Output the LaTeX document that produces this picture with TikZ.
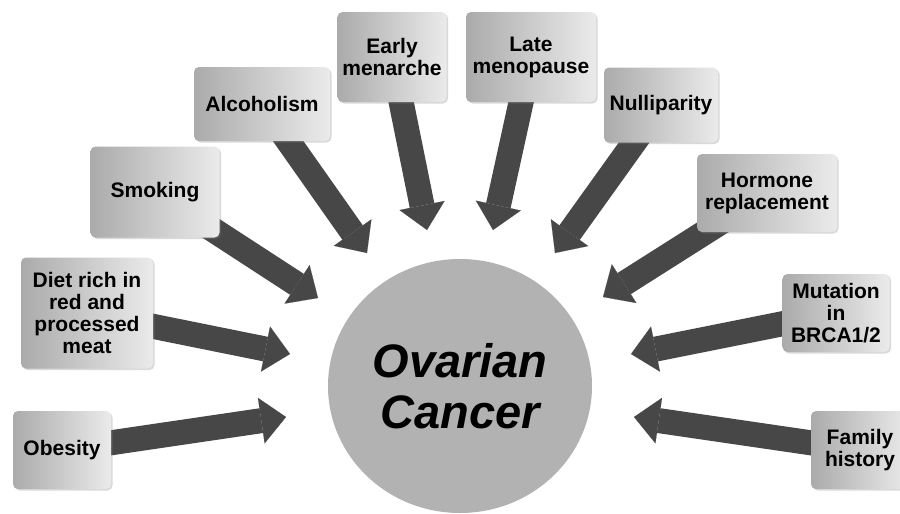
\documentclass[tikz,border=0pt]{standalone}
\usepackage{fontspec}
\setmainfont{Liberation Sans}
\usetikzlibrary{arrows.meta,positioning,shapes.geometric,shadows}
\pgfdeclarelayer{edgelayer}
\pgfsetlayers{edgelayer,main}
\tikzset{every picture/.style={line width=0.5pt}}
\tikzstyle{factor}=[rectangle,rounded corners=5pt,left color=black!33,right color=black!8,align=center,
  font=\bfseries\fontsize{21}{22}\selectfont,drop shadow={shadow xshift=1.5pt,shadow yshift=-1.5pt,opacity=0.3}]
\tikzstyle{fat}=[line width=25pt,color=black!72,-{Triangle[width=46pt,length=25pt,line width=0.1pt]}]

\begin{document}
\begin{tikzpicture}[x=1pt,y=-1pt]
\useasboundingbox (0,0) rectangle (900,514);
\node[ellipse,fill=black!30,minimum width=264pt,minimum height=254pt,align=center,
  font=\bfseries\itshape\fontsize{47}{51}\selectfont] (OC) at (460,386) {Ovarian\\Cancer};
\node[factor,minimum width=98pt,minimum height=78pt] (A) at (62,450) {Obesity};
\node[factor,minimum width=132pt,minimum height=111pt] (B) at (87,313) {Diet rich in\\red and\\processed\\meat};
\node[factor,minimum width=129pt,minimum height=91pt] (C) at (155,192) {Smoking};
\node[factor,minimum width=136pt,minimum height=74pt] (D) at (262,104) {Alcoholism};
\node[factor,minimum width=109pt,minimum height=90pt] (E) at (392,57) {Early\\menarche};
\node[factor,minimum width=130pt,minimum height=90pt] (F) at (531,57) {Late\\menopause};
\node[factor,minimum width=114pt,minimum height=75pt] (G) at (661,105) {Nulliparity};
\node[factor,minimum width=140pt,minimum height=78pt] (H) at (767,193) {Hormone\\replacement};
\node[factor,minimum width=107pt,minimum height=78pt] (I) at (836,313) {Mutation\\in\\BRCA1/2};
\node[factor,minimum width=98pt,minimum height=78pt] (J) at (860,450) {Family\\history};
%tips of the arrows
\coordinate (A') at (286,417);
\coordinate (B') at (290,354);
\coordinate (C') at (318,298);
\coordinate (D') at (367,253);
\coordinate (E') at (427,230);
\coordinate (F') at (493,230);
\coordinate (G') at (555,253);
\coordinate (H') at (603,297);
\coordinate (I') at (631,354);
\coordinate (J') at (634,417);
\begin{pgfonlayer}{edgelayer}
\path[fat]
(A.center) edge (A')
(B.center) edge (B')
(C.center) edge (C')
(D.center) edge (D')
(E.center) edge (E')
(F.center) edge (F')
(G.center) edge (G')
(H.center) edge (H')
(I.center) edge (I')
(J.center) edge (J');
\end{pgfonlayer}
\end{tikzpicture}
\end{document}
